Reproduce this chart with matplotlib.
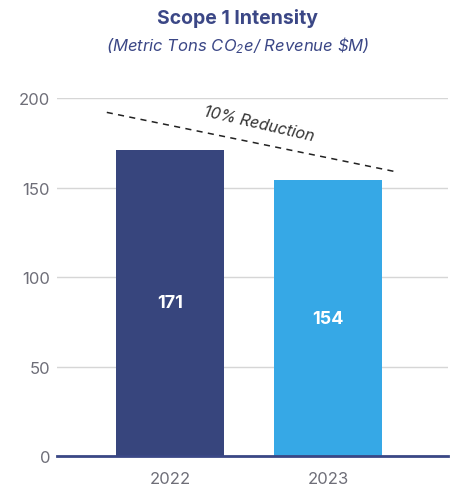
import matplotlib
matplotlib.use("Agg")
import matplotlib.pyplot as plt

years = ["2022", "2023"]
intensity = [171, 154]
bar_colors = ["#37457d", "#36a8e6"]
trend_label = "10% Reduction"
trend_start = 192
trend_end = 159
y_ticks = [0, 50, 100, 150, 200]

plt.rcParams["font.family"] = ["Inter", "DejaVu Sans"]
plt.rcParams["mathtext.fontset"] = "custom"
plt.rcParams["mathtext.rm"] = "Inter:italic"
plt.rcParams["mathtext.it"] = "Inter:italic"

fig = plt.figure(figsize=(4.54, 4.89), dpi=100)
ax = fig.add_axes([0.1256, 0.0654, 0.8614, 0.732])

x = list(range(len(years)))
bars = ax.bar(x, intensity, width=0.684, color=bar_colors, zorder=3)

for xi, v in zip(x, intensity):
    ax.text(xi, v / 2, f"{v}", ha="center", va="center", color="white",
            fontsize=13, fontweight="bold", zorder=4)

# dashed trend line between the two years
tx = [-0.40, 1.42]
ty = [trend_start, trend_end]
ax.plot(tx, ty, linestyle=(0, (4, 3.5)), color="#222222", linewidth=1.1,
        zorder=5, clip_on=False)
ax.text(0.55, 182, trend_label, rotation=-13, ha="center", va="bottom",
        fontsize=11.5, style="italic", color="#333333", rotation_mode="anchor",
        clip_on=False)

ax.set_xlim(-0.715, 1.76)
ax.set_ylim(0, 200)
ax.set_yticks(y_ticks)
ax.set_xticks(x)
ax.set_xticklabels(years)
ax.grid(axis="y", color="#d6d6d6", linewidth=1, zorder=0)
ax.tick_params(axis="both", length=0, labelsize=12, labelcolor="#6e6e78")
ax.tick_params(axis="x", pad=11)
ax.tick_params(axis="y", pad=5)
for s in ["top", "right", "left"]:
    ax.spines[s].set_visible(False)
ax.spines["bottom"].set_color("#3a4785")
ax.spines["bottom"].set_linewidth(2)
ax.spines["bottom"].set_zorder(6)

fig.text(0.524, 0.962, "Scope 1 Intensity", ha="center", va="center",
         fontsize=14, fontweight="bold", color="#3b4786")
fig.text(0.524, 0.907, r"(Metric Tons CO$_2$e/ Revenue \$M)", ha="center",
         va="center", fontsize=12, style="italic", color="#3b4786")

fig.savefig("out.png", dpi=100)
